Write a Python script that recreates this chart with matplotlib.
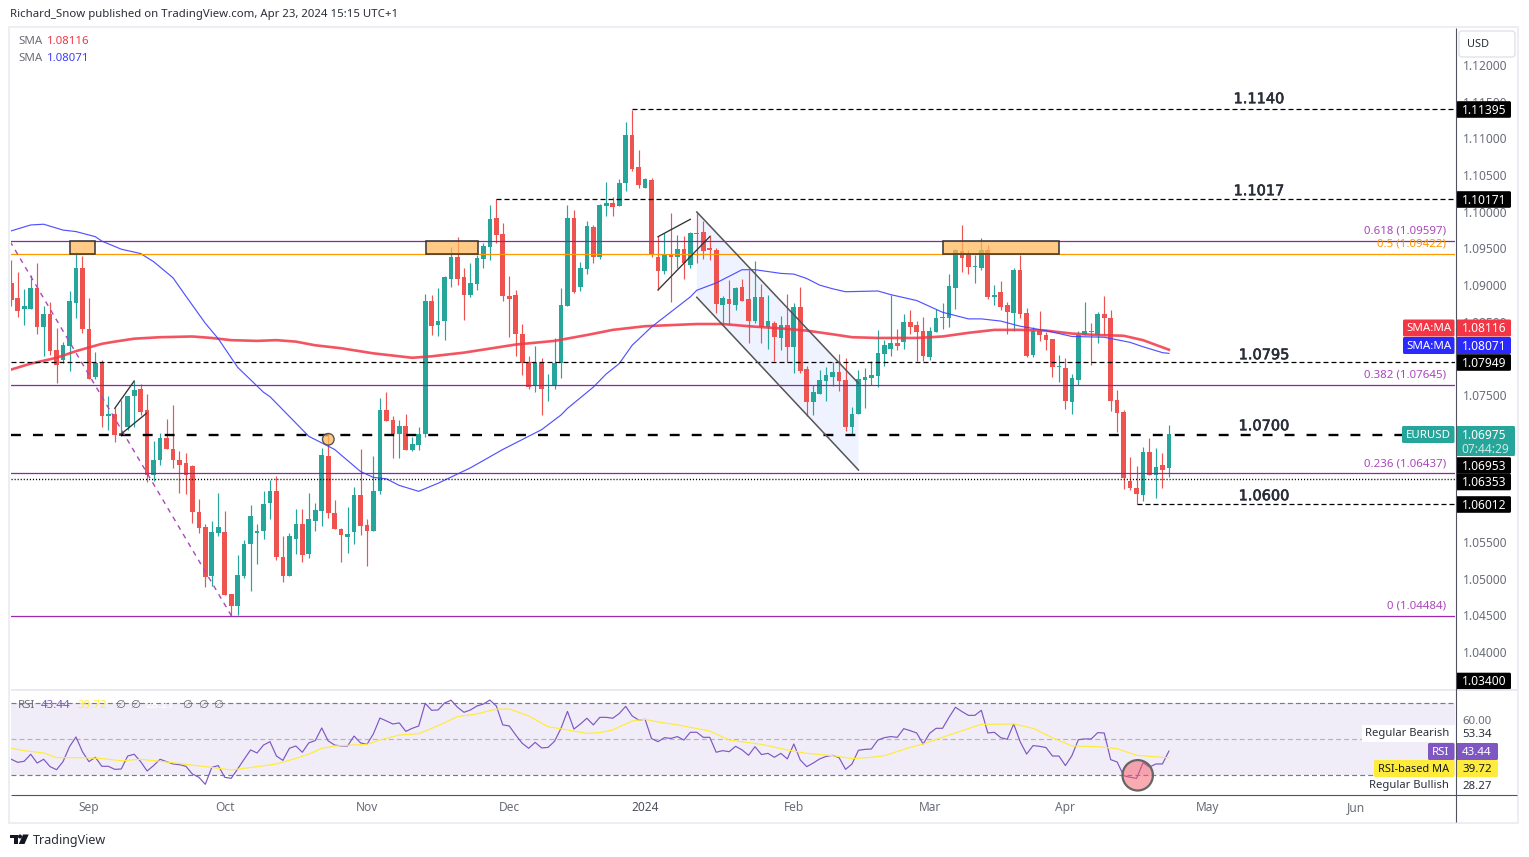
import numpy as np
import matplotlib
matplotlib.use("Agg")
import matplotlib.pyplot as plt
import matplotlib.patheffects as pe
from matplotlib.patches import Rectangle, Circle, FancyBboxPatch, Polygon

plt.rcParams['font.family'] = ['Noto Sans', 'DejaVu Sans']

W, H = 1529, 857
# ---------- data (prices in 1/10000) ----------
opens = [10903,10883,10868,10868,10896,10843,10861,10812,10798,10817,
10876,10924,10840,10775,10794,10721,10725,10695,10706,10749,
10759,10730,10641,10661,10692,10677,10662,10658,10654,10591,
10571,10504,10562,10564,10479,10463,10504,10547,10562,10565,
10603,10620,10530,10504,10554,10575,10534,10579,10592,10667,
10590,10568,10557,10564,10614,10573,10565,10620,10730,10716,
10697,10708,10675,10682,10697,10878,10845,10851,10908,10939,
10911,10886,10901,10935,10952,10991,10969,10885,10886,10834,
10795,10764,10794,10762,10764,10794,10871,10991,10898,10922,
10979,10938,11008,11012,11008,11039,11104,11061,11033,11043,
10939,10919,10943,10938,10949,10928,10971,10972,10950,10948,
10873,10881,10873,10897,10881,10851,10884,10843,10849,10828,
10845,10816,10870,10786,10741,10752,10770,10775,10782,10771,
10707,10725,10771,10774,10776,10806,10813,10821,10823,10850,
10845,10838,10802,10836,10855,10855,10896,10947,10941,10925,
10924,10948,10884,10890,10873,10862,10921,10862,10805,10838,
10832,10827,10789,10787,10741,10771,10832,10838,10832,10860,
10855,10744,10727,10633,10624,10614,10673,10641,10655,10651]
closes = [10880,10865,10872,10896,10843,10860,10810,10791,10819,10879,
10924,10840,10772,10794,10722,10725,10696,10699,10749,10757,
10727,10641,10661,10692,10676,10662,10655,10641,10591,10569,
10502,10564,10571,10478,10463,10505,10547,10586,10565,10602,
10620,10530,10504,10558,10575,10532,10581,10594,10669,10590,
10567,10560,10561,10614,10572,10565,10620,10730,10715,10697,
10708,10675,10683,10697,10878,10844,10851,10911,10938,10908,
10886,10903,10937,10953,10990,10968,10885,10881,10834,10794,
10761,10794,10759,10764,10794,10873,10991,10890,10923,10980,
10938,11009,11012,11006,11039,11104,11058,11036,11044,10941,
10919,10943,10938,10949,10930,10971,10969,10946,10948,10874,
10882,10874,10896,10879,10851,10884,10843,10851,10829,10845,
10816,10870,10783,10741,10755,10771,10778,10782,10770,10706,
10725,10772,10775,10778,10808,10819,10821,10817,10850,10843,
10836,10804,10838,10855,10857,10899,10948,10937,10925,10926,
10948,10884,10887,10870,10864,10921,10860,10804,10838,10832,
10825,10789,10790,10742,10774,10832,10838,10836,10860,10855,
10742,10726,10637,10624,10616,10673,10641,10652,10648,10697]
highs = [10934,10918,10895,10914,10930,10872,10877,10842,10823,10892,
10945,10940,10883,10809,10798,10749,10733,10744,10749,10770,
10765,10752,10688,10698,10718,10737,10674,10671,10655,10609,
10575,10579,10617,10592,10479,10532,10553,10601,10575,10620,
10635,10640,10558,10562,10595,10595,10617,10603,10678,10698,
10607,10569,10598,10625,10676,10581,10667,10746,10755,10721,
10716,10725,10693,10706,10888,10886,10896,10913,10952,10965,
10923,10930,10941,10958,11009,11017,10984,10912,10894,10847,
10804,10817,10800,10779,10828,10896,11009,11003,10931,10987,
10982,11010,11040,11020,11044,11122,11139,11084,11046,11046,
10967,10971,10998,10968,10967,10973,10999,10987,10968,10950,
10885,10907,10897,10909,10920,10933,10901,10886,10851,10858,
10888,10876,10898,10790,10764,10785,10789,10795,10806,10800,
10734,10785,10787,10797,10839,10825,10887,10840,10860,10866,
10851,10857,10843,10868,10876,10915,10949,10982,10948,10941,
10964,10955,10900,10906,10877,10924,10941,10869,10843,10865,
10836,10827,10805,10800,10779,10838,10877,10849,10864,10885,
10866,10757,10730,10666,10654,10680,10691,10678,10671,10710]
lows = [10872,10857,10846,10868,10834,10804,10805,10767,10794,10783,
10855,10835,10772,10772,10707,10703,10686,10695,10703,10706,
10723,10632,10633,10655,10676,10651,10617,10616,10576,10562,
10489,10490,10558,10478,10449,10451,10501,10483,10520,10554,
10581,10526,10496,10504,10534,10523,10528,10565,10572,10583,
10567,10523,10535,10547,10560,10517,10565,10616,10715,10664,
10664,10675,10674,10675,10693,10832,10830,10825,10897,10900,
10852,10884,10894,10924,10934,10958,10879,10829,10804,10777,
10758,10755,10723,10742,10758,10773,10871,10889,10892,10915,
10930,10935,10994,10994,11008,11028,11055,11032,11033,10938,
10893,10915,10877,10923,10909,10923,10930,10935,10934,10862,
10847,10847,10866,10879,10821,10848,10821,10813,10796,10812,
10795,10780,10780,10722,10723,10752,10742,10763,10756,10701,
10696,10725,10733,10764,10761,10790,10804,10812,10813,10834,
10797,10797,10798,10836,10840,10843,10868,10918,10915,10903,
10921,10881,10873,10866,10834,10838,10855,10802,10802,10824,
10812,10775,10768,10731,10725,10764,10832,10791,10821,10832,
10729,10700,10622,10621,10602,10606,10641,10610,10624,10639]

sma50_bar = [0,3,5,8,10,13,14,17,20,22,25,27,30,32,35,39,40,43,44,46,50,54,56,58,60,63,66,71,76,82,85,86,90,92,94,96,99,105,106,109,113,115,119,121,123,125,127,129,134,136,140,144,148,150,153,156,160,164,169,173,175,178,179]
sma50_val = [10974,10982,10983,10975,10973,10966,10960,10949,10943,10932,10910,10885,10848,10827,10788,10754,10748,10721,10712,10694,10676,10646,10638,10636,10627,10619,10630,10651,10676,10703,10723,10732,10761,10779,10793,10818,10843,10884,10893,10903,10921,10921,10916,10915,10909,10900,10895,10891,10892,10887,10879,10863,10854,10854,10851,10844,10838,10830,10829,10822,10816,10808,10807]
sma200_bar = [0,3,7,10,14,16,19,23,28,31,34,38,41,44,47,51,56,59,62,65,70,78,84,89,93,98,106,110,114,119,123,127,130,134,140,144,148,152,156,160,164,168,172,175,179]
sma200_val = [10785,10793,10801,10810,10820,10823,10827,10829,10830,10828,10825,10824,10825,10823,10818,10814,10807,10804,10801,10803,10808,10819,10824,10832,10839,10844,10847,10847,10844,10841,10838,10833,10829,10828,10828,10830,10835,10839,10839,10838,10834,10832,10831,10825,10812]

rsi = [38.9,37.2,37.8,41.7,36.8,38.9,34.8,33.1,37.6,45.9,51.3,43.1,37.6,40.0,35.0,35.0,33.3,33.5,40.7,41.7,
37.6,32.4,35.4,38.9,37.6,36.3,35.9,35.0,30.7,28.9,25.0,34.4,35.4,28.9,28.3,33.5,38.9,44.1,42.4,46.8,
48.7,40.7,38.3,45.0,46.3,42.8,48.0,49.3,56.3,49.1,46.8,46.3,46.3,51.8,48.0,47.2,53.1,61.8,60.2,58.5,
59.1,54.4,56.1,57.4,70.0,66.1,66.3,70.2,71.7,67.8,65.0,66.3,68.5,69.6,71.8,68.5,58.0,57.4,52.4,47.8,
45.0,48.3,45.2,45.5,48.9,56.1,65.5,55.7,58.5,61.7,58.0,62.2,62.2,61.7,64.3,68.3,63.0,60.7,61.1,50.4,
48.7,50.9,50.5,51.5,49.6,53.9,53.9,51.1,51.1,42.8,43.7,43.1,46.1,44.1,41.1,45.9,41.5,42.2,40.0,42.2,
39.1,47.4,38.5,34.8,36.8,39.1,40.5,41.1,39.8,33.3,36.3,43.9,44.4,44.6,49.6,50.9,51.5,51.1,55.9,54.8,
53.5,47.4,53.3,56.1,56.1,62.2,67.8,65.4,63.3,63.3,66.1,53.5,53.9,50.9,50.0,58.5,48.7,41.8,46.5,46.1,
45.4,40.7,40.7,35.4,40.9,49.8,50.2,50.2,53.7,53.5,38.7,37.4,29.8,28.9,28.3,37.0,34.6,36.3,36.3,43.44]
rsi_ma_bar = [0,2,5,7,11,14,17,20,24,27,30,34,37,41,44,46,48,50,55,57,60,63,66,69,72,75,77,80,83,86,89,91,93,96,98,100,103,108,111,116,120,123,127,130,133,135,139,141,147,150,155,158,161,164,168,171,174,179]
rsi_ma_val = [45.0,43.7,42.4,39.8,39.8,39.3,38.1,38.9,37.4,36.1,34.8,33.0,34.3,36.3,39.4,41.7,45.0,46.3,47.2,49.6,52.4,53.1,57.6,62.6,64.1,66.8,66.8,63.0,57.0,55.2,53.3,53.7,55.2,60.2,61.1,59.6,58.0,54.6,49.6,47.2,44.1,42.2,40.9,39.3,40.0,40.9,45.5,47.4,54.8,58.3,58.5,56.1,50.9,46.3,45.9,44.8,41.1,39.72]

month_labels = ['Sep','Oct','Nov','Dec','2024','Feb','Mar','Apr','May','Jun']
month_bars = [12,33,55,77,98,121,142,163,185,208]
# ticks not covered by a price tag in the reference
price_ticks = [1.04,1.045,1.05,1.055,1.075,1.085,1.09,1.095,1.10,1.105,1.11,1.115,1.12]

fib_levels = {'0.618':1.09597,'0.5':1.09422,'0.382':1.07645,'0.236':1.06437,'0':1.04484}
key_high, key_mid, key_r, key_s, key_dot, key_low = 1.11395,1.10171,1.07949,1.06953,1.06353,1.06012

# ---------- layout ----------
X0, DX = 11.3, 6.467          # px of bar 0, px per bar
L, R, T, B = 10.5, 1455.0, 27.0, 689.0
P0, PX = 1.04, 7337.5         # price at y=652 px, px per price unit
R_T, R_B = 690.0, 794.5
opens, closes, highs, lows = [np.array(a)/1e4 for a in (opens, closes, highs, lows)]
N = len(opens)
idx = np.arange(N)
UP, DOWN = '#26a69a', '#ef5350'
GR = '#6a6d78'

fig = plt.figure(figsize=(W/100, H/100), dpi=100, facecolor='white')
def box(t, b):
    return [L/W, 1-b/H, (R-L)/W, (b-t)/H]
ax = fig.add_axes(box(T, B))
ax2 = fig.add_axes(box(R_T, R_B))
ov = fig.add_axes([0, 0, 1, 1], zorder=10)
ov.set_xlim(0, W); ov.set_ylim(H, 0); ov.axis('off'); ov.patch.set_alpha(0)

xlim = ((L-X0)/DX, (R-X0)/DX)
for a in (ax, ax2):
    a.set_xlim(*xlim)
    for s in a.spines.values():
        s.set_visible(False)
ax.set_ylim(P0+(652-B)/PX, P0+(652-T)/PX)
ax2.set_ylim(70-(R_B-703.3)*0.5556, 70+(703.3-R_T)*0.5556)

# ---------- candles ----------
colors = [UP if c >= o else DOWN for o, c in zip(opens, closes)]
ax.vlines(idx, lows, highs, colors=colors, lw=0.85, zorder=2)
ax.bar(idx, np.maximum(np.abs(closes-opens), 0.00006), bottom=np.minimum(opens, closes),
       width=0.72, color=colors, linewidth=0, zorder=2.1)
# moving averages
ax.plot(sma200_bar, np.array(sma200_val)/1e4, color='#f23645', lw=1.9, alpha=0.85, zorder=3)
ax.plot(sma50_bar, np.array(sma50_val)/1e4, color='#3f3fff', lw=0.85, alpha=0.9, zorder=3)

# ---------- drawings ----------
THIN = (4, 2.4)
fib_c = {'0.618':'#8e24aa','0.5':'#ff9800','0.382':'#8e24aa','0.236':'#8e24aa','0':'#9c27b0'}
for k, v in fib_levels.items():
    ax.axhline(v, color=fib_c[k], lw=0.9, zorder=4)
ax.axhline(key_r, color='black', lw=0.9, dashes=THIN, zorder=4)
ax.plot([xlim[0], 215.5], [key_s, key_s], color='black', lw=1.7, dashes=(4.2, 5.1), zorder=4)
ax.axhline(key_dot, color='black', lw=1.0, dashes=(0.8, 1.4), zorder=4)
ax.plot([96, xlim[1]], [key_high, key_high], color='black', lw=0.9, dashes=THIN, zorder=4)
ax.plot([75, xlim[1]], [key_mid, key_mid], color='black', lw=0.9, dashes=THIN, zorder=4)
ax.plot([174, xlim[1]], [key_low, key_low], color='black', lw=0.9, dashes=THIN, zorder=4)
ax.plot([-0.2, 34.1], [fib_levels['0.618'], fib_levels['0']], color='#ab47bc', lw=1, dashes=(3.6, 3.6), zorder=4)
for x0, x1 in ((9, 13), (64.1, 72.2), (144.1, 162)):
    ax.add_patch(Rectangle((x0, fib_levels['0.5']), x1-x0, fib_levels['0.618']-fib_levels['0.5'],
                           facecolor=(1, 0.72, 0.35, 0.72), edgecolor='#333333', lw=1.1, zorder=5))
# flags
for xs, ys in (([16, 19], [1.07321, 1.07693]), ([16.8, 20.9], [1.06957, 1.07253]),
               ([100, 105], [1.0966, 1.09897]), ([100, 108], [1.08934, 1.0966])):
    ax.plot(xs, ys, color='#333333', lw=0.95, zorder=5)
# channel
ax.add_patch(Polygon([(106, 1.09997), (131, 1.07662), (131, 1.0648), (106, 1.08834)],
                     closed=True, facecolor='#2962ff', alpha=0.07, lw=0, zorder=1))
ax.plot([106, 131], [1.09997, 1.07662], color='#555555', lw=1.1, zorder=5)
ax.plot([106, 131], [1.08834, 1.0648], color='#555555', lw=1.1, zorder=5)

# price axis
ax.yaxis.tick_right()
ax.set_yticks(price_ticks)
ax.set_yticklabels([f'{t:.5f}' for t in price_ticks], fontsize=8.6, color=GR)
ax.tick_params(axis='y', length=0, pad=5.8)
ax.set_xticks([])

# ---------- RSI ----------
ax2.axhspan(30, 70, color='#7e57c2', alpha=0.1, lw=0)
for lv, c, al in ((70, '#787b86', 1), (50, '#787b86', 0.5), (30, '#787b86', 1)):
    ax2.axhline(lv, color=c, alpha=al, lw=0.85, dashes=(4.2, 2.6))
ax2.plot(idx, rsi, color='#7e57c2', lw=0.85, zorder=3)
ax2.plot(rsi_ma_bar, rsi_ma_val, color='#ffeb3b', lw=0.85, zorder=3)
ax2.set_yticks([])
ax2.set_xticks(month_bars)
ax2.set_xticklabels(month_labels, fontsize=8.6, color=GR)
ax2.tick_params(axis='x', length=0, pad=4.6)
for t in ax2.get_xticklabels():
    if t.get_text() == '2024':
        t.set_fontweight('bold'); t.set_color('#50535e')

# ---------- chrome (pixel overlay) ----------
def line(x0, y0, x1, y1, c, lw=1.0):
    ov.plot([x0, x1], [y0, y1], color=c, lw=lw, solid_capstyle='butt')
def txt(x, y, s, c='#131722', px=12, ha='left', **kw):
    return ov.text(x, y+0.7, s, color=c, fontsize=px*0.72, ha=ha, va='center', **kw)
def tag(x0, x1, y0, y1, c):
    ov.add_patch(FancyBboxPatch((x0+1, y0+1), x1-x0-2, y1-y0-2, boxstyle='round,pad=1,rounding_size=1.5',
                                fc=c, ec='none', mutation_aspect=1))

ov.add_patch(Rectangle((9, 27), 1509, 796, fill=False, ec='#eceef3', lw=1.5))
line(L, 689.5, 1517, 689.5, '#e4e6ec', 1.2)
line(L, 795, 1517, 795, '#50535e', 0.8)
line(1455.5, 28, 1455.5, 822, '#50535e', 0.8)

txt(10, 14, 'Richard_Snow published on TradingView.com, Apr 23, 2024 15:15 UTC+1', '#2a2e39', 11.4)
txt(18, 41, 'SMA', GR, 11.5); txt(47, 41, '1.08116', '#f23645', 11.5)
txt(18, 58, 'SMA', GR, 11.5); txt(47, 58, '1.08071', '#3f3fff', 11.5)

# RSI legend
txt(18, 705, 'RSI', GR, 11.5); txt(41, 705, '43.44', '#7e57c2', 11.5); txt(78, 705, '39.72', '#ffeb3b', 11.5)
txt(145, 705, '28.27', '#ffffff', 11.5)
for x in (115, 130, 182, 198, 213):
    txt(x, 705, '∅', GR, 11.5)

# big level labels
for x, y, s in ((1259, 98, '1.1140'), (1259, 190, '1.1017'), (1264, 354, '1.0795'),
                (1264, 425, '1.0700'), (1264, 495, '1.0600')):
    t = txt(x, y, s, '#2a2e39', 14.5, ha='center', family='DejaVu Sans')
    t.set_path_effects([pe.withStroke(linewidth=0.45, foreground='#2a2e39')])

# fib labels
for y, s, c in ((230, '0.618 (1.09597)', '#ab47bc'), (243, '0.5 (1.09422)', '#ff9800'),
                (374, '0.382 (1.07645)', '#ab47bc'), (463, '0.236 (1.06437)', '#ab47bc'),
                (605, '0 (1.04484)', '#ab47bc')):
    txt(1446, y, s, c, 11.5, ha='right')

# USD
ov.add_patch(FancyBboxPatch((1460, 32), 54, 24, boxstyle='round,pad=1,rounding_size=3', fc='white', ec='#e0e3eb', lw=1))
txt(1478, 44, 'USD', '#2a2e39', 11, ha='center')

# price tags
for y, s in ((109.5, '1.11395'), (199.5, '1.10171'), (362.5, '1.07949'), (465.5, '1.06953'),
             (482, '1.06353'), (504.5, '1.06012'), (681, '1.03400')):
    tag(1456, 1511, y-8.3, y+8.3, 'black')
    txt(1484, y, s, 'white', 12, ha='center')
for y, c, val in ((328, '#f23645', '1.08116'), (345.5, '#2a2aff', '1.08071')):
    tag(1403, 1454.5, y-8.5, y+8.5, c)
    tag(1456, 1511, y-8.5, y+8.5, c)
    txt(1429, y, 'SMA:MA', 'white', 11.5, ha='center')
    txt(1484, y, val, 'white', 12, ha='center')
tag(1402, 1454.5, 426, 443, UP)
txt(1428, 434.5, 'EURUSD', 'white', 11.5, ha='center')
tag(1456, 1515, 426, 456, UP)
txt(1484, 434.5, '1.06975', 'white', 12, ha='center')
txt(1485, 449, '07:44:29', '#c9e9e5', 12, ha='center')

# RSI axis
txt(1477, 720.5, '60.00', GR, 11.5, ha='center')
ov.add_patch(Rectangle((1362, 725), 93, 17, fc='white', ec='none'))
txt(1449, 733, 'Regular Bearish', '#2a2e39', 11.2, ha='right')
txt(1477, 733.5, '53.34', '#2a2e39', 11.5, ha='center')
tag(1428, 1454.5, 743, 760, '#7e57c2')
tag(1456, 1498, 743, 760, '#7e57c2')
txt(1441, 751.5, 'RSI', 'white', 11.5, ha='center')
txt(1477, 751.5, '43.44', 'white', 11.5, ha='center')
tag(1374, 1454.5, 760, 777, '#ffeb3b')
tag(1456, 1498, 760, 777, '#ffeb3b')
txt(1449, 768.5, 'RSI-based MA', '#131722', 11, ha='right')
txt(1477, 768.5, '39.72', '#131722', 11.5, ha='center')
txt(1449, 785, 'Regular Bullish', '#2a2e39', 11.2, ha='right')
txt(1477, 785.5, '28.27', '#2a2e39', 11.5, ha='center')

# circles
ov.add_patch(Circle((328.3, 439.3), 5.8, fc=(1, 0.72, 0.35, 0.75), ec='#555555', lw=1))
ov.add_patch(Circle((1137.7, 775.3), 15.2, fc=(0.97, 0.35, 0.4, 0.5), ec='#666666', lw=1.6))

# TradingView logo
ov.add_patch(Polygon([(9.5, 834.5), (17.5, 834.5), (17.5, 844), (13.5, 844), (13.5, 838.3), (9.5, 838.3)], fc='#131722', ec='none'))
ov.add_patch(Circle((20, 836.5), 2, fc='#131722', ec='none'))
ov.add_patch(Polygon([(23, 834.5), (28.7, 834.5), (24.5, 844), (18.8, 844)], fc='#131722', ec='none'))
txt(33, 839.5, 'TradingView', '#2a2e39', 12.5)

fig.savefig('out.png', dpi=100, facecolor='white')
